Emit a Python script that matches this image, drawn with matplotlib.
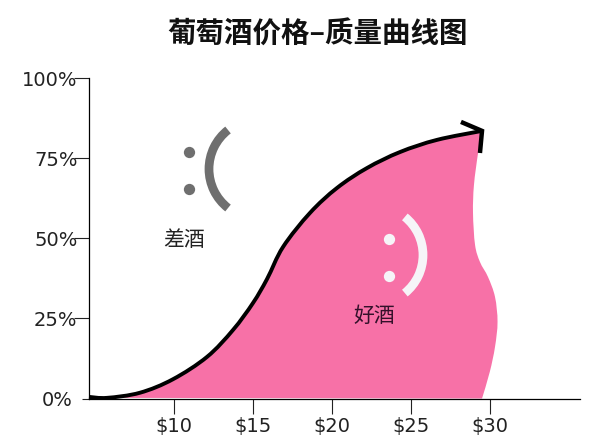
import matplotlib
matplotlib.use('Agg')
import matplotlib.pyplot as plt
from matplotlib.path import Path
from matplotlib.patches import PathPatch, Arc

plt.rcParams['font.family'] = ['Noto Sans CJK SC', 'DejaVu Sans']

title = '葡萄酒价格–质量曲线图'
price_ticks = [10, 15, 20, 25, 30]
price_labels = ['$10', '$15', '$20', '$25', '$30']
quality_ticks = [25, 50, 75, 100]
quality_labels = ['25%', '50%', '75%', '100%']

# price/quality curve
curve_x = [4.66, 5.8, 7.88, 9.96, 12.12, 13.76, 15.02, 15.91, 16.92, 18.62, 20.33, 22.22, 24.31, 26.65, 29.49]
curve_y = [0.5, 0.2, 1.8, 6.0, 13.0, 21.4, 29.8, 37.3, 47.3, 57.9, 65.7, 71.9, 76.9, 80.7, 83.5]

# right hand edge of the pink area, top to bottom
edge_x = [29.49, 29.24, 28.98, 28.92, 29.05, 29.36, 29.87, 30.31, 30.47, 30.31, 29.98, 29.49]
edge_y = [83.5, 76.6, 66.6, 57.9, 47.9, 42.6, 37.9, 31.7, 23.9, 16.1, 8.3, 0.0]

arrow_x = [28.16, 29.49, 29.36]
arrow_y = [86.3, 83.5, 76.6]


def smooth(xs, ys):
    pts = list(zip(xs, ys))
    verts = [pts[0]]
    codes = [Path.MOVETO]
    for i in range(len(pts) - 1):
        p0 = pts[max(i - 1, 0)]
        p1 = pts[i]
        p2 = pts[i + 1]
        p3 = pts[min(i + 2, len(pts) - 1)]
        verts.append((p1[0] + (p2[0] - p0[0]) / 6, p1[1] + (p2[1] - p0[1]) / 6))
        verts.append((p2[0] - (p3[0] - p1[0]) / 6, p2[1] - (p3[1] - p1[1]) / 6))
        verts.append(p2)
        codes += [Path.CURVE4] * 3
    return verts, codes


fig = plt.figure(figsize=(6, 4.42), dpi=100)
ax = fig.add_axes([89 / 600, 43.5 / 442, 491 / 600, 320.5 / 442])
ax.set_xlim(4.66, 35.68)
ax.set_ylim(0, 100)

v1, c1 = smooth(curve_x[1:], curve_y[1:])
v2, c2 = smooth(edge_x, edge_y)
c2[0] = Path.LINETO
verts = v1 + v2 + [v1[0]]
codes = c1 + c2 + [Path.CLOSEPOLY]
ax.add_patch(PathPatch(Path(verts, codes), facecolor='#f771a7', edgecolor='none'))

v, c = smooth(curve_x, curve_y)
ax.add_patch(PathPatch(Path(v, c), facecolor='none', edgecolor='black', linewidth=2.8,
                       clip_on=False, capstyle='butt'))
ax.plot(arrow_x, arrow_y, color='black', linewidth=3.2, clip_on=False,
        solid_joinstyle='miter', solid_capstyle='butt')

for s in ['top', 'right']:
    ax.spines[s].set_visible(False)
for s in ['left', 'bottom']:
    ax.spines[s].set_linewidth(0.9)
ax.set_xticks(price_ticks, price_labels, fontsize=14, family='DejaVu Sans')
ax.set_yticks(quality_ticks, quality_labels, fontsize=14, family='DejaVu Sans')
# 0% has a shorter tick in the original, so it goes on as a minor tick
ax.set_yticks([0], ['0%'], minor=True, fontsize=14, family='DejaVu Sans')
ax.tick_params(axis='x', length=11, width=0.8, pad=2.5, color='#222222', labelcolor='#222222')
ax.tick_params(axis='y', length=10.8, width=0.8, pad=-2.5, color='#222222', labelcolor='#222222')
ax.tick_params(axis='y', which='minor', length=5, width=0.8, pad=7, color='#222222', labelcolor='#222222')

ax.text(10.66, 49.4, '差酒', fontsize=15, color='#222222', ha='center', va='center')
ax.text(22.67, 25.7, '好酒', fontsize=15, color='#33102a', ha='center', va='center')

fig.text(0.53, 0.922, title, fontsize=20.5, fontweight='bold', color='#111111',
         ha='center', va='center')

# faces are drawn on a pixel sized overlay
over = fig.add_axes([0, 0, 1, 1])
over.set_xlim(0, 600)
over.set_ylim(442, 0)
over.axis('off')
over.scatter([189, 189], [152, 189], s=66, color='#6f6f6f', linewidths=0)
over.add_patch(Arc((258.5, 169), 99, 99, theta1=128, theta2=232, color='#6f6f6f', linewidth=6.3))
over.scatter([389, 389], [239, 276], s=66, color='#f6f4f8', linewidths=0)
over.add_patch(Arc((374, 255), 98, 98, theta1=-51, theta2=51, color='#f6f4f8', linewidth=6.3))

fig.savefig('out.png', dpi=100)
